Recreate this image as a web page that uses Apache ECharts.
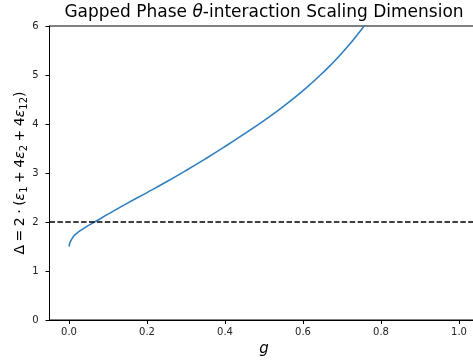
<!DOCTYPE html>
<html><head><meta charset="utf-8">
<script src="https://cdn.jsdelivr.net/npm/echarts@6/dist/echarts.min.js"></script>
<style>html,body{margin:0;padding:0;background:#fff}#c{width:473px;height:363px}</style>
</head><body><div id="c"></div>
<script>
const gValues = [0, 0.003, 0.007, 0.012, 0.02, 0.03, 0.04, 0.05, 0.07, 0.1, 0.15, 0.2, 0.25, 0.3, 0.35, 0.4, 0.45, 0.5, 0.55, 0.6, 0.65, 0.7, 0.75, 0.8];
const deltaValues = [1.50, 1.59, 1.65, 1.71, 1.77, 1.83, 1.88, 1.93, 2.02, 2.16, 2.385, 2.60, 2.82, 3.05, 3.29, 3.54, 3.80, 4.07, 4.36, 4.68, 5.04, 5.45, 5.93, 6.5];
const refLevel = 2;
const xTicks = [0, 0.2, 0.4, 0.6, 0.8, 1.0];
const xRange = [-0.05, 1.05];
const yRange = [0, 6];

const font = 'DejaVu Sans';
const sp = '\u2005';
const chart = echarts.init(document.getElementById('c'), null, {renderer: 'canvas'});
chart.setOption({
  animation: false,
  graphic: [{
    type: 'text', x: 264, y: 4,
    style: {
      text: 'Gapped Phase {i|θ}-interaction Scaling Dimension',
      align: 'center', verticalAlign: 'top',
      fontFamily: font, fontSize: 17, fill: '#000',
      rich: {i: {fontFamily: font, fontSize: 17, fontStyle: 'italic', fill: '#000'}}
    }
  }],
  grid: {left: 49.5, right: -5.5, top: 26, bottom: 43, show: true, borderColor: '#000', borderWidth: 1,
    containLabel: false, outerBoundsMode: 'none'},
  xAxis: {
    type: 'value', min: xRange[0], max: xRange[1],
    name: 'g', nameLocation: 'middle', nameGap: 22, nameMoveOverlap: false,
    nameTextStyle: {fontFamily: font, fontSize: 15, fontStyle: 'italic', color: '#000'},
    axisLine: {show: true, onZero: false, lineStyle: {color: '#000', width: 1}},
    axisTick: {show: true, length: 4, customValues: xTicks, lineStyle: {color: '#000'}},
    axisLabel: {customValues: xTicks, margin: 7, fontFamily: font, fontSize: 10, color: '#222',
      formatter: v => Number(v).toFixed(1)},
    splitLine: {show: false}
  },
  yAxis: {
    type: 'value', min: yRange[0], max: yRange[1], interval: 1,
    name: '{m|Δ' + sp + '=' + sp + '2' + sp + '·' + sp + '(}{i|ε}{s|1}{m|' + sp + '+' + sp + '4}{i|ε}{s|2}{m|' + sp + '+' + sp + '4}{i|ε}{s|12}{m|)}',
    nameLocation: 'middle', nameGap: 20, nameRotate: 90, nameMoveOverlap: false,
    nameTextStyle: {
      fontFamily: font, fontSize: 14, color: '#000',
      rich: {
        m: {fontFamily: font, fontSize: 14, lineHeight: 18, verticalAlign: 'middle', color: '#000'},
        i: {fontFamily: font, fontSize: 14, fontStyle: 'italic', lineHeight: 18, verticalAlign: 'middle', color: '#000'},
        s: {fontFamily: font, fontSize: 10, lineHeight: 10, verticalAlign: 'bottom', color: '#000'}
      }
    },
    axisLine: {show: true, onZero: false, lineStyle: {color: '#000', width: 1}},
    axisTick: {show: true, length: 4, lineStyle: {color: '#000'}},
    axisLabel: {margin: 11, fontFamily: font, fontSize: 10, color: '#222'},
    splitLine: {show: false}
  },
  series: [
    {
      type: 'line', data: gValues.map((g, i) => [g, deltaValues[i]]),
      showSymbol: false, smooth: 0.5, clip: true,
      lineStyle: {color: '#2f7fc1', width: 1.6}
    },
    {
      type: 'line', data: [[xRange[0], refLevel], [xRange[1], refLevel]],
      showSymbol: false, clip: true,
      lineStyle: {color: '#000', width: 1.5, type: [5.5, 2.4]}
    }
  ]
});
</script></body></html>
